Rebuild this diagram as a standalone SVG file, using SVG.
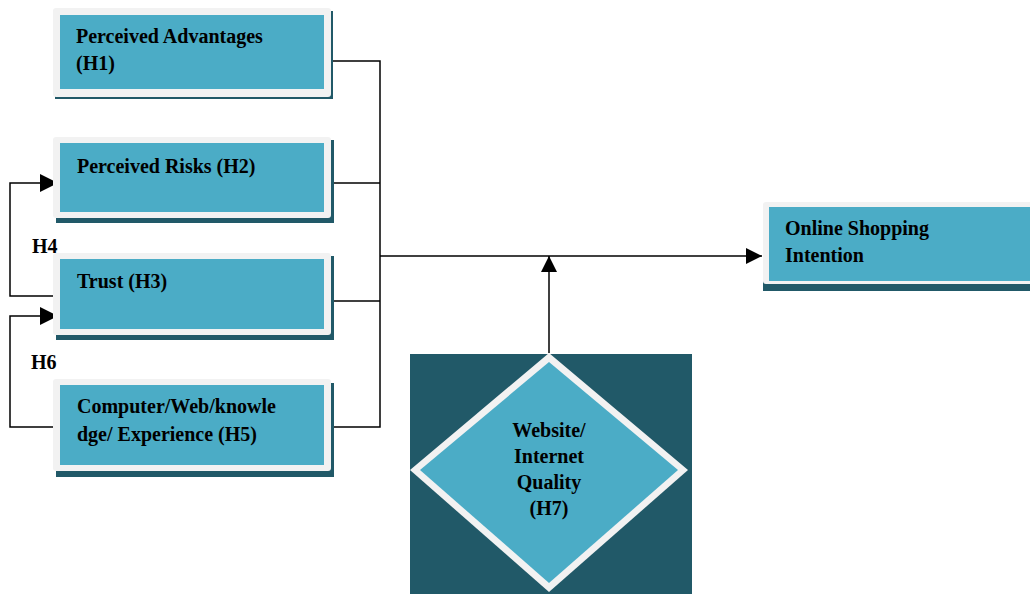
<svg xmlns="http://www.w3.org/2000/svg" width="1030" height="594" viewBox="0 0 1030 594">
<style>
.shadow{fill:#215968}
.frame{fill:#F2F2F2}
.inner{fill:#4BACC6}
.t{font-family:"Liberation Serif","Times New Roman",serif;font-weight:bold;font-size:20px;fill:#000}
.c{fill:none;stroke:#000;stroke-width:1.5}
</style>
<defs>
<marker id="ah" viewBox="0 0 10 10" refX="10" refY="5" markerWidth="10" markerHeight="10" markerUnits="userSpaceOnUse" orient="auto">
<path d="M0,0 L10,5 L0,10 Z" fill="#000"/>
</marker>
<marker id="ahL" viewBox="0 0 10 10" refX="10" refY="5" markerWidth="18" markerHeight="18" markerUnits="userSpaceOnUse" orient="auto">
<path d="M0,0 L10,5 L0,10 Z" fill="#000"/>
</marker>
<marker id="ahM" viewBox="0 0 10 10" refX="10" refY="5" markerWidth="16" markerHeight="16" markerUnits="userSpaceOnUse" orient="auto">
<path d="M0,0 L10,5 L0,10 Z" fill="#000"/>
</marker>
</defs>
<rect width="1030" height="594" fill="#fff"/>

<g id="connectors">
<polyline class="c" points="331,61 380,61 380,427 333,427"/>
<line class="c" x1="331" y1="183" x2="380" y2="183"/>
<line class="c" x1="333" y1="301" x2="380" y2="301"/>
<line class="c" x1="380" y1="256" x2="762" y2="256" marker-end="url(#ahM)"/>
<line class="c" x1="549" y1="353" x2="549" y2="256" marker-end="url(#ahM)"/>
<polyline class="c" points="53,296 10,296 10,183 58,183" marker-end="url(#ahL)"/>
<polyline class="c" points="57,427 10,427 10,316 58,316" marker-end="url(#ahL)"/>
<text class="t" x="32" y="253" font-size="18">H4</text>
<text class="t" x="31" y="369" font-size="18">H6</text>
</g>

<g id="n1">
<rect class="shadow" x="55" y="11" width="278" height="88"/>
<rect class="frame" x="53" y="8" width="278" height="89" rx="3"/>
<rect class="inner" x="60" y="15" width="264" height="74"/>
<text class="t" x="76" y="43">Perceived Advantages</text>
<text class="t" x="76" y="70">(H1)</text>
</g>

<g id="n2">
<rect class="shadow" x="56" y="140" width="278" height="83"/>
<rect class="frame" x="53" y="137" width="278" height="81" rx="3"/>
<rect class="inner" x="60" y="143" width="264" height="69"/>
<text class="t" x="77" y="173">Perceived Risks (H2)</text>
</g>

<g id="n3">
<rect class="shadow" x="56" y="256" width="278" height="84"/>
<rect class="frame" x="53" y="253" width="278" height="82" rx="3"/>
<rect class="inner" x="60" y="259" width="264" height="70"/>
<text class="t" x="77" y="288">Trust (H3)</text>
</g>

<g id="n4">
<rect class="shadow" x="56" y="383" width="278" height="94"/>
<rect class="frame" x="53" y="379" width="278" height="92" rx="3"/>
<rect class="inner" x="60" y="385" width="264" height="80"/>
<text class="t" x="77" y="413">Computer/Web/knowle</text>
<text class="t" x="77" y="441">dge/ Experience (H5)</text>
</g>

<g id="n5">
<rect class="shadow" x="763" y="205" width="270" height="86"/>
<rect class="frame" x="763" y="202" width="270" height="82" rx="3"/>
<rect class="inner" x="769" y="207" width="265" height="74"/>
<text class="t" x="785" y="235">Online Shopping</text>
<text class="t" x="785" y="262">Intention</text>
</g>

<g id="n6">
<rect class="shadow" x="410" y="354" width="282" height="240"/>
<polygon class="frame" points="549,353 688,470 549,592 410,470"/>
<polygon class="inner" points="549,362 678,470 549,583 420,470"/>
<text class="t" x="549" y="437" text-anchor="middle">Website/</text>
<text class="t" x="549" y="463" text-anchor="middle">Internet</text>
<text class="t" x="549" y="489" text-anchor="middle">Quality</text>
<text class="t" x="549" y="515" text-anchor="middle">(H7)</text>
</g>
</svg>
